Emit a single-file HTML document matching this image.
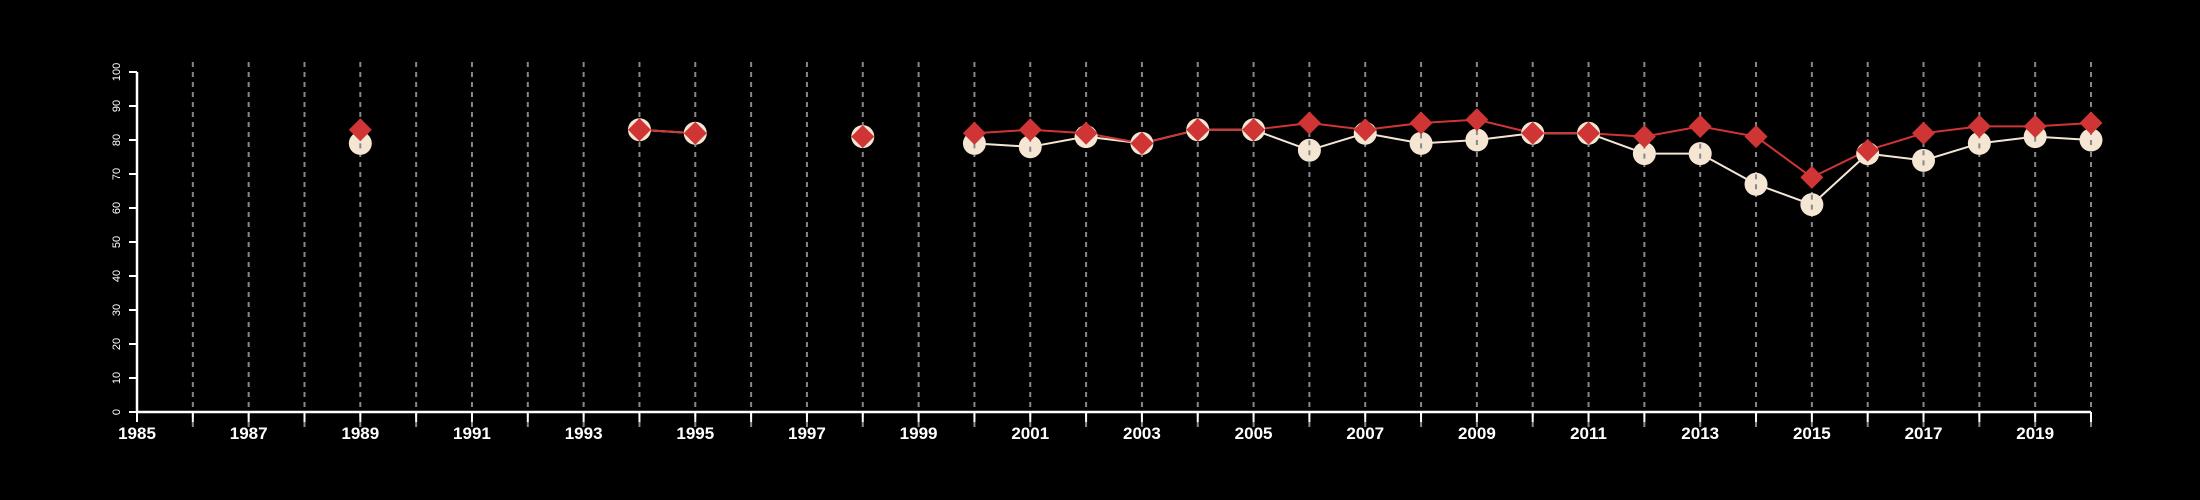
<!DOCTYPE html>
<html><head><meta charset="utf-8"><style>
html,body{margin:0;padding:0;background:#000;}
svg{display:block;font-family:"Liberation Sans",sans-serif;}
</style></head><body>
<svg id="chart" width="2200" height="500" viewBox="0 0 2200 500"></svg>
<script>
const years = [1989,1990,1991,1992,1993,1994,1995,1996,1997,1998,1999,2000,2001,2002,2003,2004,2005,2006,2007,2008,2009,2010,2011,2012,2013,2014,2015,2016,2017,2018,2019,2020];
const seriesCream = [79,null,null,null,null,83,82,null,null,81,null,79,78,81,79,83,83,77,82,79,80,82,82,76,76,67,61,76,74,79,81,80];
const seriesRed = [83,null,null,null,null,83,82,null,null,81,null,82,83,82,79,83,83,85,83,85,86,82,82,81,84,81,69,77,82,84,84,85];
const yTicks = [0,10,20,30,40,50,60,70,80,90,100];
const xTickYears = [1985,1986,1987,1988,1989,1990,1991,1992,1993,1994,1995,1996,1997,1998,1999,2000,2001,2002,2003,2004,2005,2006,2007,2008,2009,2010,2011,2012,2013,2014,2015,2016,2017,2018,2019,2020];

const NS="http://www.w3.org/2000/svg";
const svg=document.getElementById('chart');
const x0=137,x1=2091,y0=412,y1=72;
const xs=y=>x0+(y-1985)/(2020-1985)*(x1-x0);
const ys=v=>y0-(v/100)*(y0-y1);
function mk(t,a,p){const e=document.createElementNS(NS,t);for(const k in a)e.setAttribute(k,a[k]);(p||svg).appendChild(e);return e;}

xTickYears.forEach(y=>{
  if(y===1985)return;
  const g=mk('line',{x1:xs(y),x2:xs(y),y1:62,y2:428,stroke:'#888','stroke-width':2,'stroke-dasharray':'5,5'});
  
  
});
const xa=mk('line',{x1:x0,x2:x1,y1:y0,y2:y0,stroke:'#fff','stroke-width':2.5});


const ya=mk('line',{x1:x0,x2:x0,y1:y0,y2:y1,stroke:'#fff','stroke-width':2.5});


yTicks.forEach(v=>{
  mk('line',{x1:x0-8,x2:x0,y1:ys(v),y2:ys(v),stroke:'#fff','stroke-width':2});
  const t=mk('text',{x:0,y:0,fill:'#fff','font-size':11,'text-anchor':'middle',transform:`translate(120,${ys(v)}) rotate(-90)`});
  t.textContent=v;
  
  
});
xTickYears.forEach(y=>{
  mk('line',{x1:xs(y),x2:xs(y),y1:y0,y2:y0+10,stroke:'#fff','stroke-width':2});
  if((y-1985)%2===0){
    const t=mk('text',{x:xs(y),y:439,fill:'#fff','font-size':17,'font-weight':'bold','text-anchor':'middle'});
    t.textContent=y;
    
    
  }
});
function lines(data,color,name){
  for(let i=1;i<years.length;i++){
    if(data[i]!=null&&data[i-1]!=null&&years[i]-years[i-1]===1){
      const l=mk('line',{x1:xs(years[i-1]),y1:ys(data[i-1]),x2:xs(years[i]),y2:ys(data[i]),stroke:color,'stroke-width':2});
      
      
    }
  }
}
lines(seriesCream,'#f5e6d3','cream-line-segment');
lines(seriesRed,'#d03535','red-line-segment');
years.forEach((y,i)=>{
  if(seriesCream[i]==null)return;
  const c=mk('circle',{cx:xs(y),cy:ys(seriesCream[i]),r:11.5,fill:'#f5e6d3'});
  
  
  mk('line',{x1:xs(y),x2:xs(y),y1:ys(seriesCream[i])-10,y2:ys(seriesCream[i])+10,stroke:'#888','stroke-width':2,'stroke-dasharray':'5,5'});
});
years.forEach((y,i)=>{
  if(seriesRed[i]==null)return;
  const cx=xs(y),cy=ys(seriesRed[i]),r=11.5;
  const d=mk('polygon',{points:`${cx},${cy-r} ${cx+r},${cy} ${cx},${cy+r} ${cx-r},${cy}`,fill:'#d03535'});
  
  
});
</script>
</body></html>
